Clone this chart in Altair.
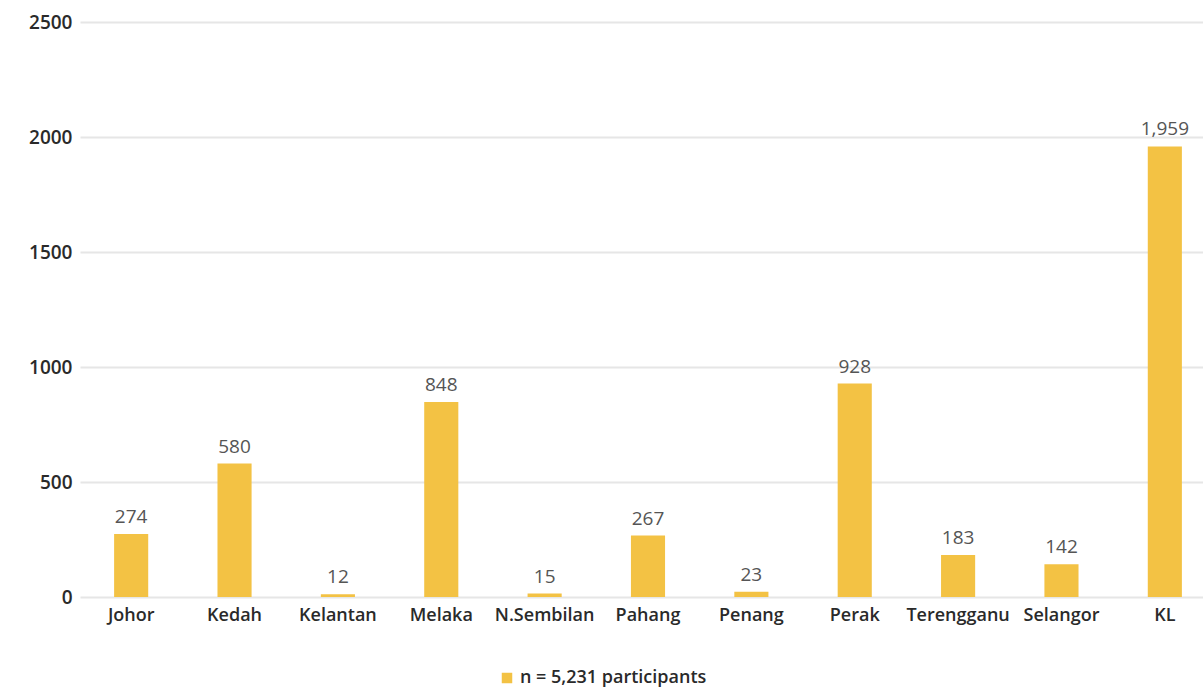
import altair as alt
import pandas as pd

states = ["Johor", "Kedah", "Kelantan", "Melaka", "N.Sembilan", "Pahang",
          "Penang", "Perak", "Terengganu", "Selangor", "KL"]
counts = [274, 580, 12, 848, 15, 267, 23, 928, 183, 142, 1959]
series_name = "n = 5,231 participants"
y_ticks = [0, 500, 1000, 1500, 2000, 2500]

df = pd.DataFrame({"state": states, "count": counts, "series": [series_name] * len(states)})

FONT = "Open Sans"
BAR = "#F3C244"

x = alt.X("state:N", sort=states, title=None,
          scale=alt.Scale(paddingInner=0.67, paddingOuter=0.33, range=[0, 1136]),
          axis=alt.Axis(labelAngle=0, domain=False, ticks=False, grid=False, labelPadding=9,
                        labelFontSize=18, labelFont=FONT, labelFontWeight=600,
                        labelColor="#2a2a2a"))
y = alt.Y("count:Q", title=None,
          scale=alt.Scale(domain=[0, 2500], nice=False),
          axis=alt.Axis(values=y_ticks, format="d", domain=False, ticks=False, labelPadding=8,
                        labelFontSize=19, labelFont=FONT, labelFontWeight=600,
                        labelColor="#2a2a2a", gridColor="#E6E6E6", gridWidth=2))

bars = alt.Chart(df).mark_bar().encode(
    x=x, y=y,
    color=alt.Color("series:N", scale=alt.Scale(domain=[series_name], range=[BAR]),
                    legend=alt.Legend(title=None, orient="none", legendX=418, legendY=647,
                                      symbolType="square", symbolSize=110, labelLimit=500,
                                      labelFontSize=18, labelFont=FONT, labelFontWeight=600,
                                      labelColor="#2a2a2a", symbolStrokeWidth=0))
)

labels = alt.Chart(df).mark_text(baseline="bottom", dy=-7, fontSize=19, font=FONT,
                                 color="#555555").encode(
    x=alt.X("state:N", sort=states),
    y=alt.Y("count:Q"),
    text=alt.Text("count:Q", format=",")
)

chart = (bars + labels).properties(
    width=1123, height=575,
    padding={"left": 80, "top": 22, "right": 0, "bottom": 93},
    autosize=alt.AutoSizeParams(type="none"),
    background="white",
).configure_view(strokeWidth=0)

chart.save("out.html", embed_options={"renderer": "svg", "actions": False})
